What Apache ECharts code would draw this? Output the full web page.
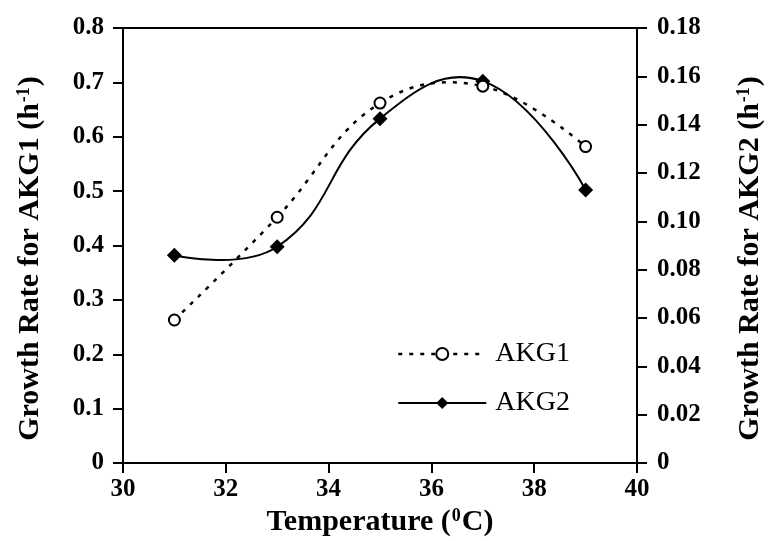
<!DOCTYPE html>
<html>
<head>
<meta charset="utf-8">
<title>Growth Rate vs Temperature</title>
<script src="https://cdn.jsdelivr.net/npm/echarts@6/dist/echarts.min.js"></script>
<style>
  html, body { margin: 0; padding: 0; background: #fff; }
  #chart { width: 768px; height: 541px; }
</style>
</head>
<body>
<div id="chart"></div>
<script>
// Temperature (°C) at which each strain was grown
const temperatures = [31, 33, 35, 37, 39];
// Specific growth rate of AKG1 (h^-1), left axis
const akg1Rates = [0.263, 0.452, 0.662, 0.693, 0.582];
// Specific growth rate of AKG2 (h^-1), right axis
const akg2Rates = [0.086, 0.0895, 0.1425, 0.158, 0.113];

const serif = '"Liberation Serif", "Times New Roman", serif';
const black = '#000';

const pairs = (xs, ys) => xs.map((x, i) => [x, ys[i]]);

const akg1Line = { color: black, width: 2.5, type: [4, 7], opacity: 1 };
const akg2Line = { color: black, width: 2, type: 'solid', opacity: 1 };

// Spline through the measured points: each span is a cubic Bezier whose
// control points follow the chord between neighbouring points (free to
// overshoot, unlike the built-in clamped smoothing).
function splineRenderer(xs, ys, smooth, lineStyle) {
  return function (params, api) {
    const i = params.dataIndex;
    if (i >= xs.length - 1) return null;
    const pts = xs.map((x, k) => api.coord([x, ys[k]]));
    const handles = pts.map((p, k) => {
      if (k === 0 || k === pts.length - 1) return { before: p, after: p };
      const prev = pts[k - 1], next = pts[k + 1];
      const vx = next[0] - prev[0], vy = next[1] - prev[1];
      const lp = Math.hypot(p[0] - prev[0], p[1] - prev[1]);
      const ln = Math.hypot(next[0] - p[0], next[1] - p[1]);
      const r = ln / (lp + ln);
      return {
        before: [p[0] - vx * smooth * (1 - r), p[1] - vy * smooth * (1 - r)],
        after: [p[0] + vx * smooth * r, p[1] + vy * smooth * r]
      };
    });
    const a = pts[i], b = pts[i + 1];
    const c1 = handles[i].after, c2 = handles[i + 1].before;
    return {
      type: 'bezierCurve',
      shape: {
        x1: a[0], y1: a[1], x2: b[0], y2: b[1],
        cpx1: c1[0], cpy1: c1[1], cpx2: c2[0], cpy2: c2[1]
      },
      style: {
        fill: null,
        stroke: lineStyle.color,
        lineWidth: lineStyle.width,
        lineDash: Array.isArray(lineStyle.type) ? lineStyle.type : null
      }
    };
  };
}

const titleRich = {
  a: { fontFamily: serif, fontWeight: 'bold', fontSize: 30, color: black },
  sup: { fontFamily: serif, fontWeight: 'bold', fontSize: 18, color: black, verticalAlign: 'top', padding: [0, 1, 0, 1] }
};

const axisCommon = {
  axisLine: { show: true, lineStyle: { color: black, width: 2 } },
  axisTick: { show: true, inside: false, length: 10, lineStyle: { color: black, width: 2 } },
  splitLine: { show: false },
  axisLabel: { fontFamily: serif, fontWeight: 'bold', fontSize: 25, color: black }
};

const chart = echarts.init(document.getElementById('chart'), null, { renderer: 'canvas' });

chart.setOption({
  backgroundColor: '#fff',
  animation: false,
  grid: {
    left: 123, right: 131, top: 28, bottom: 78,
    outerBoundsMode: 'none',
    containLabel: false,
    show: true, borderColor: black, borderWidth: 2, backgroundColor: 'transparent'
  },
  legend: {
    data: [
      { name: 'AKG1', lineStyle: akg1Line },
      { name: 'AKG2', lineStyle: akg2Line }
    ],
    orient: 'vertical',
    left: 392,
    top: 335,
    itemWidth: 88,
    itemHeight: 15,
    itemGap: 21,
    textStyle: { fontFamily: serif, fontSize: 28, color: black, padding: [0, 0, 0, 4] }
  },
  xAxis: {
    type: 'value',
    min: 30, max: 40, interval: 2,
    name: '{a|Temperature (}{sup|0}{a|C)}',
    nameLocation: 'middle',
    nameGap: 43,
    nameTextStyle: { rich: titleRich },
    ...axisCommon,
    axisLabel: { ...axisCommon.axisLabel, margin: 14 }
  },
  yAxis: [
    {
      type: 'value',
      position: 'left',
      min: 0, max: 0.8, interval: 0.1,
      name: '{a|Growth Rate for AKG1 (h}{sup|-1}{a|)}',
      nameLocation: 'middle',
      nameRotate: 90,
      nameGap: 78,
      nameTextStyle: { rich: titleRich, padding: [0, 26, 0, 0] },
      ...axisCommon,
      axisLabel: { ...axisCommon.axisLabel, margin: 19 }
    },
    {
      type: 'value',
      position: 'right',
      min: 0, max: 0.18, interval: 0.02,
      name: '{a|Growth Rate for AKG2 (h}{sup|-1}{a|)}',
      nameLocation: 'middle',
      nameRotate: 90,
      nameGap: 98,
      nameTextStyle: { rich: titleRich, padding: [0, 26, 0, 0] },
      ...axisCommon,
      axisLabel: {
        ...axisCommon.axisLabel,
        margin: 20,
        formatter: v => (v === 0 ? '0' : v.toFixed(2))
      }
    }
  ],
  series: [
    {
      name: 'AKG2 curve',
      type: 'custom',
      yAxisIndex: 1,
      data: pairs(temperatures, akg2Rates),
      encode: { x: 0, y: 1 },
      renderItem: splineRenderer(temperatures, akg2Rates, 0.45, akg2Line),
      silent: true,
      z: 1
    },
    {
      name: 'AKG2',
      type: 'line',
      yAxisIndex: 1,
      data: pairs(temperatures, akg2Rates),
      symbol: 'diamond',
      symbolSize: 15,
      showAllSymbol: true,
      lineStyle: { color: black, width: 2, opacity: 0 },
      itemStyle: { color: black, borderColor: black, borderWidth: 0 },
      z: 2
    },
    {
      name: 'AKG1 curve',
      type: 'custom',
      yAxisIndex: 0,
      data: pairs(temperatures, akg1Rates),
      encode: { x: 0, y: 1 },
      renderItem: splineRenderer(temperatures, akg1Rates, 0.4, akg1Line),
      silent: true,
      z: 3
    },
    {
      name: 'AKG1',
      type: 'line',
      yAxisIndex: 0,
      data: pairs(temperatures, akg1Rates),
      symbol: 'emptyCircle',
      symbolSize: 11,
      showAllSymbol: true,
      lineStyle: { color: black, width: 2.5, opacity: 0 },
      itemStyle: { color: black, borderColor: black, borderWidth: 2 },
      z: 4
    }
  ]
});
</script>
</body>
</html>
